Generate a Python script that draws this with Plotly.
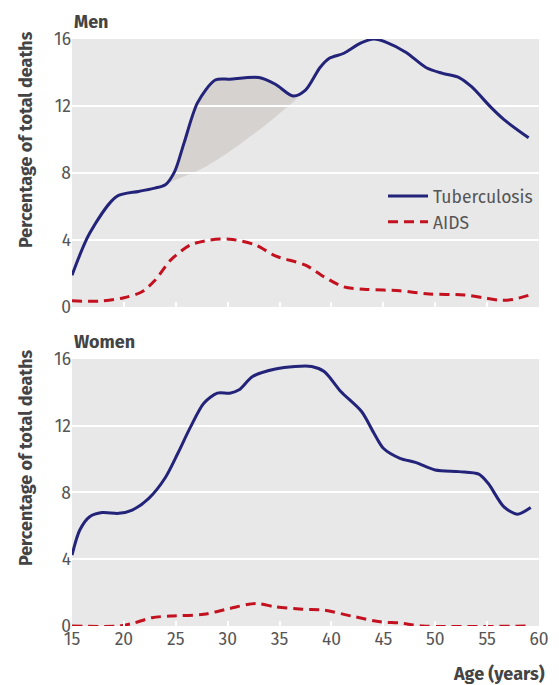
import plotly.graph_objects as go
from plotly.subplots import make_subplots

# Men
men_tb_age = [15, 16.7, 19.3, 21.4, 23, 24, 24.9, 25.8, 27.1, 28.8, 30.2, 33, 34.6, 36.3, 37.5, 38.9,
              39.8, 41.2, 42.8, 44.1, 45.3, 47.2, 49.1, 50.7, 52.3, 53.5, 55.4, 56.6, 59]
men_tb = [1.9, 4.4, 6.6, 6.9, 7.1, 7.3, 8.1, 9.8, 12.2, 13.55, 13.6, 13.7, 13.3, 12.6, 12.95, 14.3,
          14.85, 15.15, 15.75, 16.0, 15.8, 15.2, 14.3, 13.95, 13.7, 13.15, 11.9, 11.2, 10.1]
men_aids_age = [15, 17.6, 20, 21.7, 23, 24.5, 26.4, 28.3, 30.2, 32.7, 34.6, 37.5, 39.3, 41.2, 43.4,
                46.6, 49.4, 52.8, 54.7, 56.3, 57.5, 59]
men_aids = [0.37, 0.35, 0.55, 0.9, 1.6, 2.8, 3.7, 4.0, 4.05, 3.7, 3.05, 2.5, 1.8, 1.2, 1.05,
            0.97, 0.78, 0.72, 0.55, 0.4, 0.45, 0.7]
# shaded region lower boundary
shade_age = [23.3, 25, 27, 30, 32, 34.6, 36.8]
shade_low = [7.15, 7.6, 8.1, 9.2, 10.1, 11.35, 12.6]

# Women
women_tb_age = [15, 15.75, 16.7, 17.9, 19.5, 20.8, 22.4, 24, 25.2, 26.4, 27.7, 29, 30.2, 31.1, 32.4,
                34.6, 36.5, 38.1, 39.3, 40.9, 42.9, 44.1, 45, 46.6, 48.1, 50, 52.3, 54.2, 55.1,
                56.6, 57.9, 59.2]
women_tb = [4.25, 5.75, 6.55, 6.8, 6.75, 6.95, 7.65, 8.9, 10.35, 11.9, 13.35, 13.95, 13.95, 14.15, 14.95,
            15.4, 15.55, 15.55, 15.25, 14.05, 12.85, 11.55, 10.65, 10.05, 9.8, 9.35, 9.25, 9.1, 8.55,
            7.15, 6.7, 7.1]
women_aids_age = [15, 19.5, 20.8, 22.7, 24.5, 27.7, 30.2, 32.7, 34.6, 37.2, 39.3, 41.9, 44.7, 46.6,
                  48.8, 59.2]
women_aids = [0, 0, 0.15, 0.5, 0.6, 0.7, 1.05, 1.35, 1.15, 1.0, 0.95, 0.6, 0.25, 0.18, 0, 0]

x_ticks = [15, 20, 25, 30, 35, 40, 45, 50, 55, 60]
y_ticks = [0, 4, 8, 12, 16]

TB_COLOR = "#23237a"
AIDS_COLOR = "#c3111f"
FONT = "Fira Sans, Open Sans, sans-serif"
DASH = "10px,6px"

fig = make_subplots(rows=2, cols=1, shared_xaxes=False, vertical_spacing=0.0886)

# shaded area
upper_x = [a for a in men_tb_age if shade_age[0] < a < shade_age[-1]]
upper_y = [v for a, v in zip(men_tb_age, men_tb) if shade_age[0] < a < shade_age[-1]]
fig.add_trace(go.Scatter(x=shade_age + upper_x[::-1], y=shade_low + upper_y[::-1],
                         fill="toself", fillcolor="rgb(214,210,208)", mode="lines",
                         line=dict(width=0, shape="spline"), showlegend=False,
                         hoverinfo="skip"), row=1, col=1)

# gridlines redrawn above the shaded area (the reference shows them through it)
gx, gy = [], []
for t in y_ticks[1:-1]:
    gx += [x_ticks[0], x_ticks[-1], None]
    gy += [t, t, None]
fig.add_trace(go.Scatter(x=gx, y=gy, mode="lines", line=dict(color="white", width=2),
                         showlegend=False, hoverinfo="skip"), row=1, col=1)

fig.add_trace(go.Scatter(x=men_tb_age, y=men_tb, mode="lines", name="Tuberculosis",
                         line=dict(color=TB_COLOR, width=3, shape="spline", smoothing=0.8)),
              row=1, col=1)
fig.add_trace(go.Scatter(x=men_aids_age, y=men_aids, mode="lines", name="AIDS",
                         line=dict(color=AIDS_COLOR, width=3, dash=DASH, shape="spline", smoothing=0.8)),
              row=1, col=1)
fig.add_trace(go.Scatter(x=women_tb_age, y=women_tb, mode="lines", name="Tuberculosis",
                         showlegend=False,
                         line=dict(color=TB_COLOR, width=3, shape="spline", smoothing=0.8)),
              row=2, col=1)
fig.add_trace(go.Scatter(x=women_aids_age, y=women_aids, mode="lines", name="AIDS",
                         showlegend=False,
                         line=dict(color=AIDS_COLOR, width=3, dash=DASH, shape="spline", smoothing=0.8)),
              row=2, col=1)

axis_common = dict(range=[15, 60], tickvals=x_ticks, ticks="inside", tickcolor="white",
                   ticklen=5, tickwidth=1.5, showgrid=False, zeroline=False, showline=False,
                   tickfont=dict(family=FONT, size=17.5, color="#555555"))
fig.update_xaxes(**axis_common)
fig.update_xaxes(showticklabels=False, row=1, col=1)
fig.update_xaxes(showticklabels=True, ticklabelstandoff=0, row=2, col=1)

fig.update_yaxes(range=[0, 16], tickvals=y_ticks, showgrid=True, gridcolor="white", gridwidth=2,
                 zeroline=False, showline=False, ticks="",
                 tickfont=dict(family=FONT, size=17.5, color="#555555"))

# page body has an 8px margin; compensate so plot area lands at the intended pixels
fig.update_layout(
    width=551, height=677,
    margin=dict(l=64, r=10, t=31, b=59),
    paper_bgcolor="white", plot_bgcolor="#e8e8e8",
    font=dict(family=FONT, color="#555555"),
    legend=dict(x=0.666, y=0.763, xanchor="left", yanchor="top",
                bgcolor="rgba(0,0,0,0)", font=dict(family=FONT, size=17.5, color="#555555"),
                tracegroupgap=0, itemwidth=40),
)
fig.update_layout(yaxis=dict(domain=[0.5434, 1.0]), yaxis2=dict(domain=[0.0, 0.4549]))

title_font = dict(family=FONT, size=18, color="#444444")
annos = [
    dict(text="<b>Men</b>", x=0, y=1.029, xanchor="left", yanchor="middle"),
    dict(text="<b>Women</b>", x=0, y=0.4838, xanchor="left", yanchor="middle"),
    dict(text="<b>Age (years)</b>", x=1.017, y=-0.082, xanchor="right", yanchor="middle"),
    dict(text="<b>Percentage of total deaths</b>", x=-0.0985, y=0.828, xanchor="center",
         yanchor="middle", textangle=-90),
    dict(text="<b>Percentage of total deaths</b>", x=-0.0985, y=0.286, xanchor="center",
         yanchor="middle", textangle=-90),
]
for a in annos:
    fig.add_annotation(xref="paper", yref="paper", showarrow=False, font=title_font, **a)

fig.write_html("out.html")
